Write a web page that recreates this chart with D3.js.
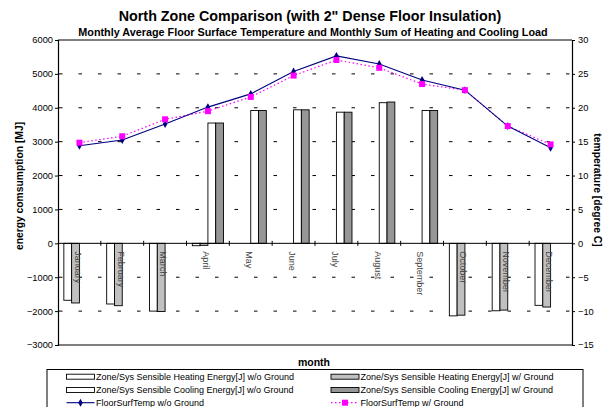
<!DOCTYPE html>
<html><head><meta charset="utf-8">
<script src="https://cdn.jsdelivr.net/npm/d3@7"></script>
<style>body{margin:0;background:#fff}svg{display:block;font-family:"Liberation Sans",Arial,sans-serif}</style>
</head><body><svg id="c" width="615" height="407"></svg>
<script>
const months = ["January","February","March","April","May","June","July","August","September","October","November","December"];
const heatingWo = [-1680,-1790,-2000,-70,0,0,0,0,0,-2140,-1990,-1830];
const heatingW  = [-1760,-1840,-2010,-60,0,0,0,0,0,-2120,-1970,-1880];
const coolingWo = [0,0,0,3550,3920,3940,3870,4150,3920,0,0,0];
const coolingW  = [0,0,0,3550,3920,3940,3870,4170,3920,0,0,0];
const tempWo = [14.4,15.25,17.6,20.1,22.05,25.35,27.65,26.45,24.1,22.6,17.3,14.1];
const tempW  = [14.85,15.8,18.3,19.5,21.6,24.75,27.05,25.9,23.5,22.6,17.3,14.6];
const leftTicks = [-3000,-2000,-1000,0,1000,2000,3000,4000,5000,6000];
const rightTicks = [-15,-10,-5,0,5,10,15,20,25,30];
const seriesNames = ["Zone/Sys Sensible Heating Energy[J] w/o Ground","Zone/Sys Sensible Heating Energy[J] w/ Ground","Zone/Sys Sensible Cooling Energy[J] w/o Ground","Zone/Sys Sensible Cooling Energy[J] w/ Ground","FloorSurfTemp w/o Ground","FloorSurfTemp w/ Ground"];

const svg = d3.select("#c");
const L=58, R=572, T=40, B=345;
const x0 = d3.scaleBand().domain(months).range([L,R]).padding(0);
const x1 = d3.scaleBand().domain([0,1,2,3]).range([0,x0.bandwidth()]).paddingInner(0).paddingOuter(0.75);
const y = d3.scaleLinear().domain([-3000,6000]).range([B,T]);
const y2 = d3.scaleLinear().domain([-15,30]).range([B,T]);
const fills = ["#ffffff","#c0c0c0","#ffffff","#969696"];

// gridlines
const g = svg.append("g");
g.selectAll("line.grid").data(leftTicks.filter(d=>d!==-3000&&d!==6000&&d!==0)).join("line")
  .attr("x1",L+1).attr("x2",R).attr("y1",d=>y(d)).attr("y2",d=>y(d))
  .attr("stroke","#000").attr("stroke-width",1).attr("stroke-dasharray","3.5,16");

// bars
const barData = [heatingWo,heatingW,coolingWo,coolingW];
barData.forEach((arr,si)=>{
  svg.append("g").selectAll("rect").data(arr.map((v,i)=>({v,m:months[i]})).filter(d=>d.v!==0)).join("rect")
    .attr("x",d=>x0(d.m)+x1(si)).attr("width",x1.bandwidth())
    .attr("y",d=>y(Math.max(0,d.v))).attr("height",d=>Math.abs(y(d.v)-y(0)))
    .attr("fill",fills[si]).attr("stroke","#000").attr("stroke-width",0.9);
});

// zero axis line + ticks
svg.append("line").attr("x1",L).attr("x2",R).attr("y1",y(0)).attr("y2",y(0)).attr("stroke","#000").attr("stroke-width",1);
svg.append("g").selectAll("line").data(d3.range(1,12)).join("line")
  .attr("x1",i=>L+i*x0.step()).attr("x2",i=>L+i*x0.step()).attr("y1",y(0)-2.5).attr("y2",y(0)+2.5)
  .attr("stroke","#000");

// month labels
svg.append("g").selectAll("text").data(months).join("text")
  .attr("transform",d=>`translate(${x0(d)+x0.bandwidth()/2-1.5},${y(0)+8}) rotate(90)`)
  .attr("dy","0.35em").attr("font-size",9).attr("fill","#444").text(d=>d);

// plot borders
svg.append("line").attr("x1",L).attr("x2",R).attr("y1",T).attr("y2",T).attr("stroke","#000");
svg.append("line").attr("x1",L).attr("x2",R).attr("y1",B).attr("y2",B).attr("stroke","#000");

// left axis
const la = svg.append("g").attr("transform",`translate(${L},0)`)
  .call(d3.axisLeft(y).tickValues(leftTicks).tickSize(3).tickPadding(2).tickFormat(d3.format("d")));
la.select(".domain").attr("stroke","#000").attr("stroke-width",1.2);
la.selectAll("text").attr("font-size",9.3).attr("font-family","Liberation Sans, Arial").attr("fill","#000");
// right axis
const ra = svg.append("g").attr("transform",`translate(${R},0)`)
  .call(d3.axisRight(y2).tickValues(rightTicks).tickSize(3).tickPadding(3).tickFormat(d3.format("d")));
ra.select(".domain").attr("stroke","#000").attr("stroke-width",1.2);
ra.selectAll("text").attr("font-size",9.3).attr("font-family","Liberation Sans, Arial").attr("fill","#000");

// lines
const lineGen = d3.line().x((d,i)=>x0(months[i])+x0.bandwidth()/2).y(d=>y2(d));
svg.append("path").datum(tempW).attr("d",lineGen).attr("fill","none").attr("stroke","#ff00ff").attr("stroke-width",1.2).attr("stroke-dasharray","1.5,2.5");
svg.append("path").datum(tempWo).attr("d",lineGen).attr("fill","none").attr("stroke","#000080").attr("stroke-width",1.1);
svg.append("g").selectAll("path").data(tempWo).join("path")
  .attr("d",d3.symbol(d3.symbolDiamond,18)).attr("fill","#000080")
  .attr("transform",(d,i)=>`translate(${x0(months[i])+x0.bandwidth()/2},${y2(d)})`);
svg.append("g").selectAll("rect").data(tempW).join("rect")
  .attr("x",(d,i)=>x0(months[i])+x0.bandwidth()/2-3).attr("y",d=>y2(d)-3).attr("width",6).attr("height",6)
  .attr("fill","#ff00ff");

// titles
svg.append("text").attr("x",310).attr("y",21).attr("text-anchor","middle").attr("font-size",14.3).attr("font-weight","bold")
  .text("North Zone Comparison (with 2\" Dense Floor Insulation)");
svg.append("text").attr("x",313).attr("y",36).attr("text-anchor","middle").attr("font-size",10.8).attr("font-weight","bold")
  .text("Monthly Average Floor Surface Temperature and Monthly Sum of Heating and Cooling Load");
svg.append("text").attr("transform","translate(23,186) rotate(-90)").attr("text-anchor","middle").attr("font-size",10.3).attr("font-weight","bold")
  .text("energy comsumption [MJ]");
svg.append("text").attr("transform","translate(594,190) rotate(90)").attr("text-anchor","middle").attr("font-size",10.3).attr("font-weight","bold")
  .text("temperature [degree C]");
svg.append("text").attr("x",314).attr("y",366).attr("text-anchor","middle").attr("font-size",10.5).attr("font-weight","bold").text("month");

// legend
const lg = svg.append("g");
lg.append("rect").attr("x",47).attr("y",369.5).attr("width",536).attr("height",45).attr("fill","#fff").attr("stroke","#000").attr("stroke-width",1);
const rowsY = [376.7,390,402.7];
const colX = [66.5,331];
seriesNames.forEach((name,i)=>{
  const cx = colX[i%2], cy = rowsY[Math.floor(i/2)];
  if(i<4){
    lg.append("rect").attr("x",cx).attr("y",cy-2.5).attr("width",28).attr("height",5).attr("fill",fills[i]).attr("stroke","#000").attr("stroke-width",0.9);
  } else if(i===4){
    lg.append("line").attr("x1",cx).attr("x2",cx+28).attr("y1",cy).attr("y2",cy).attr("stroke","#000080").attr("stroke-width",1.1);
    lg.append("path").attr("d",d3.symbol(d3.symbolDiamond,18)).attr("fill","#000080").attr("transform",`translate(${cx+14},${cy})`);
  } else {
    lg.append("line").attr("x1",cx).attr("x2",cx+28).attr("y1",cy).attr("y2",cy).attr("stroke","#ff00ff").attr("stroke-width",1.2).attr("stroke-dasharray","1.5,2.5");
    lg.append("rect").attr("x",cx+11).attr("y",cy-3).attr("width",6).attr("height",6).attr("fill","#ff00ff");
  }
  lg.append("text").attr("x",cx+29.5).attr("y",cy).attr("dy","0.35em").attr("font-size",9).text(name);
});
</script></body></html>
